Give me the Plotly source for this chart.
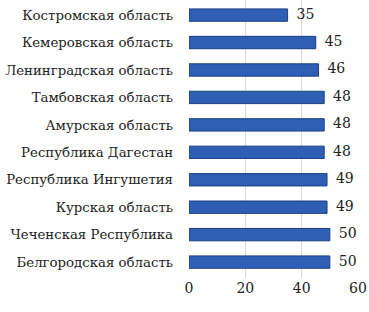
import plotly.graph_objects as go

regions = ["Костромская область", "Кемеровская область", "Ленинградская область",
           "Тамбовская область", "Амурская область", "Республика Дагестан",
           "Республика Ингушетия", "Курская область", "Чеченская Республика",
           "Белгородская область"]
values = [35, 45, 46, 48, 48, 48, 49, 49, 50, 50]
x_ticks = [0, 20, 40, 60]

font_family = "DejaVu Serif"

fig = go.Figure()
fig.add_trace(go.Bar(
    x=values, y=regions, orientation="h",
    marker=dict(color="#2F5FB5", line=dict(color="#1C3E80", width=1)),
    width=0.45, hoverinfo="x+y",
))
fig.add_trace(go.Scatter(
    x=values, y=regions, mode="text",
    text=[str(v) for v in values], textposition="middle right",
    texttemplate="  %{text}",
    textfont=dict(family=font_family, size=14, color="#222222"),
    cliponaxis=False, hoverinfo="skip",
))

fig.update_layout(
    width=369, height=312,
    margin=dict(l=189, r=11, t=0, b=34),
    paper_bgcolor="white", plot_bgcolor="white",
    showlegend=False,
    font=dict(family=font_family, size=13, color="#222222"),
)
fig.update_xaxes(range=[0, 60], tickvals=x_ticks, showgrid=True, gridcolor="#D9D9D9",
                 gridwidth=1, zeroline=False, showline=False, ticklabeloverflow="allow",
                 tickfont=dict(family=font_family, size=14, color="#222222"))
fig.update_yaxes(range=[9.58, -0.55], showgrid=False, showline=False, ticks="",
                 ticklabelstandoff=15,
                 tickfont=dict(family=font_family, size=13.3, color="#222222"))

fig.write_html(
    "out.html",
    config={"displayModeBar": False},
    post_script="document.body.style.margin='0';document.body.style.overflow='hidden';",
)
